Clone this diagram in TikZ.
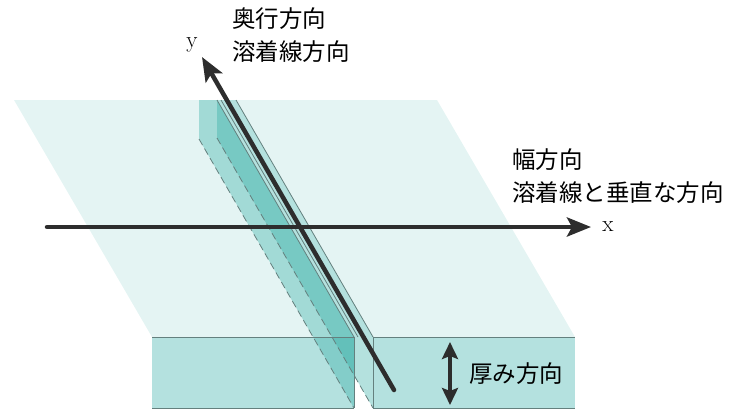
\documentclass[tikz,border=0pt]{standalone}
\usepackage{fontspec}
\newfontfamily\jpfont{Noto Sans CJK JP}
\usetikzlibrary{arrows.meta}
\definecolor{topface}{RGB}{228,244,243}
\definecolor{frontface}{RGB}{180,225,223}
\definecolor{weldface}{RGB}{40,170,160}
\definecolor{edgegray}{RGB}{100,128,126}
\definecolor{axisdark}{RGB}{45,45,45}
\begin{document}
\begin{tikzpicture}[x=1pt,y=-1pt,
  plate top/.style={fill=topface,draw=none},
  plate front/.style={fill=frontface,draw=none},
  side face/.style={fill=weldface,fill opacity=0.35,draw=none},
  thin edge/.style={draw=edgegray,line width=0.8pt},
  hidden edge/.style={draw=edgegray,line width=0.8pt,dash pattern=on 7pt off 4pt},
  axis arrow/.style={draw=axisdark,line width=4.5pt,line cap=round,
    -{Stealth[length=24pt,width=19pt,inset=5pt]}},
  thick arrow/.style={draw=axisdark,line width=4pt,
    {Stealth[length=17pt,width=16pt,inset=3pt]}-{Stealth[length=17pt,width=16pt,inset=3pt]}},
  jp label/.style={font=\jpfont\fontsize{23.5}{33}\selectfont,inner sep=0pt,align=left,anchor=west},
  axis label/.style={font=\fontsize{23}{23}\selectfont,inner sep=0pt}
]
\useasboundingbox (0,0) rectangle (739,410);

% plate surfaces
\fill[plate top] (14,100) -- (217,100) -- (354,337) -- (152,337) -- cycle;
\fill[plate top] (236,100) -- (437,100) -- (575,337) -- (373,337) -- cycle;
\fill[plate front] (152,337) rectangle (354,408);
\fill[plate front] (373,337) rectangle (575,408);

% joint side faces, translucent
\fill[side face] (199,100) -- (217,100) -- (354,337) -- (354,408) -- (199,139) -- cycle;
\fill[side face] (217,100) -- (236,100) -- (373,337) -- (373,408) -- (217,138) -- cycle;

% front face borders
\draw[thin edge] (152,337) -- (354,337);
\draw[thin edge] (152,408) -- (354,408);
\draw[thin edge] (373,337) -- (575,337);
\draw[thin edge] (373,408) -- (575,408);
\draw[thin edge] (354,337) -- (354,408);
\draw[thin edge] (373,337) -- (373,408);

% joint edges
\draw[thin edge] (217,100) -- (354,337);
\draw[thin edge] (221,100) -- (358,337);
\draw[thin edge] (236,100) -- (373,337);
\draw[hidden edge] (199,139) -- (354,408);
\draw[hidden edge] (217,138) -- (373,408);

% axes
\coordinate (xs) at (47,227);
\coordinate (xe) at (591,227);
\coordinate (ys) at (394,390);
\coordinate (ye) at (202,57);
\draw[axis arrow] (xs) -- (xe);
\draw[axis arrow] (ys) -- (ye);
\node[axis label] (xl) at (608,227) {x};
\node[axis label] (yl) at (192,45) {y};

% thickness arrow
\coordinate (ta) at (450,342);
\coordinate (tb) at (450,405);
\draw[thick arrow] (ta) -- (tb);

% labels
\node[jp label] (depth) at (232,35) {奥行方向\\溶着線方向};
\node[jp label] (width) at (512,176) {幅方向\\溶着線と垂直な方向};
\node[jp label] (thick) at (469,374) {厚み方向};
\end{tikzpicture}
\end{document}
